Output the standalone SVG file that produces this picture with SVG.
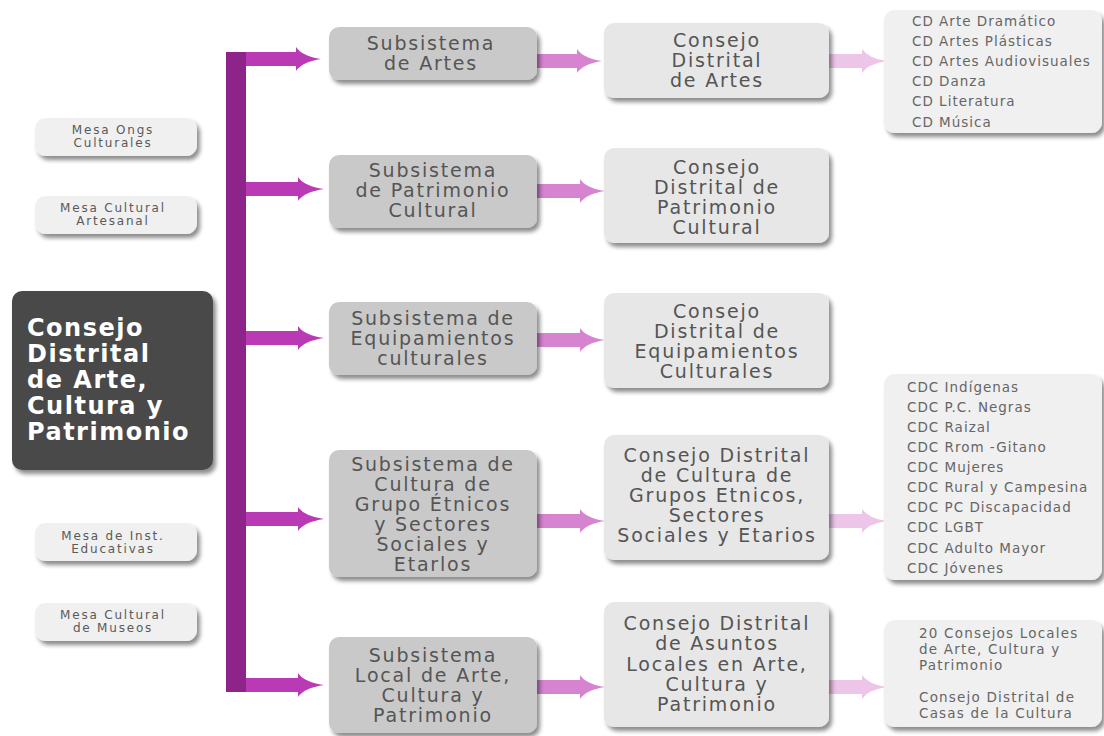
<svg xmlns="http://www.w3.org/2000/svg" width="1104" height="736" viewBox="0 0 1104 736">
  <style>
    .t { font-family: "DejaVu Sans", "Liberation Sans", sans-serif; text-anchor: middle; fill: #555555; }
    .sub { font-size: 19px; letter-spacing: 1.8px; }
    .list { font-family: "DejaVu Sans", "Liberation Sans", sans-serif; font-size: 13.5px; letter-spacing: 1px; fill: #666666; }
    .loc { font-size: 13.5px; letter-spacing: 1.2px; }
    .mesa { font-size: 12px; letter-spacing: 1.8px; fill: #5a5a5a; }
    .main { font-family: "DejaVu Sans", "Liberation Sans", sans-serif; font-size: 24px; font-weight: bold; letter-spacing: 1.5px; fill: #ffffff; }
    .boxSub { fill: #c9c9c9; }
    .boxCon { fill: #e7e7e7; }
    .boxList { fill: #f0f0f0; }
    .a1 { fill: #b93ab4; }
    .a2 { fill: #d683d0; }
    .a3 { fill: #ecc5e9; }
  </style>
  <defs>
    <filter id="shadow" x="-10%" y="-10%" width="125%" height="130%">
      <feDropShadow dx="3" dy="4" stdDeviation="2.2" flood-color="#000000" flood-opacity="0.45"/>
    </filter>
  </defs>
  <rect width="1104" height="736" fill="#ffffff"/>

  <!-- connectors -->
  <g id="connectors">
    <!-- trunk -->
    <rect x="226" y="52" width="20" height="640" fill="#8e2489"/>
    <!-- trunk to subsystems -->
    <path class="a1" d="M246,52 H296 V47 Q302,56 321,59 Q302,62 296,71 V66 H246 Z"/>
    <path class="a1" d="M246,182 H298 V177 Q304,186 324,189 Q304,192 298,201 V196 H246 Z"/>
    <path class="a1" d="M246,331 H298 V326 Q304,335 324,338 Q304,341 298,350 V345 H246 Z"/>
    <path class="a1" d="M246,512 H298 V507 Q304,516 324,519 Q304,522 298,531 V526 H246 Z"/>
    <path class="a1" d="M246,678 H298 V673 Q304,682 324,685 Q304,688 298,697 V692 H246 Z"/>
    <!-- subsystems to councils -->
    <path class="a2" d="M537,54 H577 V49 Q583,58 602,61 Q583,64 577,73 V68 H537 Z"/>
    <path class="a2" d="M537,184 H580 V179 Q586,188 605,191 Q586,194 580,203 V198 H537 Z"/>
    <path class="a2" d="M537,333 H580 V328 Q586,337 605,340 Q586,343 580,352 V347 H537 Z"/>
    <path class="a2" d="M537,514 H580 V509 Q586,518 605,521 Q586,524 580,533 V528 H537 Z"/>
    <path class="a2" d="M537,680 H580 V675 Q586,684 605,687 Q586,690 580,699 V694 H537 Z"/>
    <!-- councils to lists -->
    <path class="a3" d="M829,54 H862 V49 Q868,58 886,61 Q868,64 862,73 V68 H829 Z"/>
    <path class="a3" d="M829,514 H862 V509 Q868,518 886,521 Q868,524 862,533 V528 H829 Z"/>
    <path class="a3" d="M829,680 H862 V675 Q868,684 886,687 Q868,690 862,699 V694 H829 Z"/>
  </g>

  <!-- main council -->
  <g id="node-main">
    <rect x="12" y="291" width="201" height="179" rx="10" fill="#4a4a4a" filter="url(#shadow)"/>
    <text class="main" x="27" y="336">Consejo</text>
    <text class="main" x="27" y="362">Distrital</text>
    <text class="main" x="27" y="388">de Arte,</text>
    <text class="main" x="27" y="414">Cultura y</text>
    <text class="main" x="27" y="440">Patrimonio</text>
  </g>

  <!-- tables -->
  <g id="mesa-ongs">
    <rect x="35" y="118" width="162" height="38" rx="11" class="boxList" filter="url(#shadow)"/>
    <text class="t mesa" x="113" y="134">Mesa Ongs</text>
    <text class="t mesa" x="113" y="147">Culturales</text>
  </g>
  <g id="mesa-artesanal">
    <rect x="35" y="196" width="162" height="38" rx="11" class="boxList" filter="url(#shadow)"/>
    <text class="t mesa" x="113" y="212">Mesa Cultural</text>
    <text class="t mesa" x="113" y="225">Artesanal</text>
  </g>
  <g id="mesa-educativas">
    <rect x="35" y="523" width="162" height="38" rx="11" class="boxList" filter="url(#shadow)"/>
    <text class="t mesa" x="113" y="540">Mesa de Inst.</text>
    <text class="t mesa" x="113" y="553">Educativas</text>
  </g>
  <g id="mesa-museos">
    <rect x="35" y="603" width="162" height="38" rx="11" class="boxList" filter="url(#shadow)"/>
    <text class="t mesa" x="113" y="619">Mesa Cultural</text>
    <text class="t mesa" x="113" y="632">de Museos</text>
  </g>

  <!-- subsystems -->
  <g id="sub-artes">
    <rect x="329" y="27" width="208" height="53" rx="10" class="boxSub" filter="url(#shadow)"/>
    <text class="t sub" x="431" y="50">Subsistema</text>
    <text class="t sub" x="431" y="70">de Artes</text>
  </g>
  <g id="sub-patrimonio">
    <rect x="329" y="155" width="208" height="73" rx="10" class="boxSub" filter="url(#shadow)"/>
    <text class="t sub" x="433" y="177">Subsistema</text>
    <text class="t sub" x="433" y="197">de Patrimonio</text>
    <text class="t sub" x="433" y="217">Cultural</text>
  </g>
  <g id="sub-equipamientos">
    <rect x="329" y="302" width="208" height="73" rx="10" class="boxSub" filter="url(#shadow)"/>
    <text class="t sub" x="433" y="325">Subsistema de</text>
    <text class="t sub" x="433" y="345">Equipamientos</text>
    <text class="t sub" x="433" y="365">culturales</text>
  </g>
  <g id="sub-etnicos">
    <rect x="329" y="450" width="208" height="127" rx="10" class="boxSub" filter="url(#shadow)"/>
    <text class="t sub" x="433" y="471">Subsistema de</text>
    <text class="t sub" x="433" y="491">Cultura de</text>
    <text class="t sub" x="433" y="511">Grupo Étnicos</text>
    <text class="t sub" x="433" y="531">y Sectores</text>
    <text class="t sub" x="433" y="551">Sociales y</text>
    <text class="t sub" x="433" y="571">Etarlos</text>
  </g>
  <g id="sub-local">
    <rect x="329" y="637" width="208" height="96" rx="10" class="boxSub" filter="url(#shadow)"/>
    <text class="t sub" x="433" y="662">Subsistema</text>
    <text class="t sub" x="433" y="682">Local de Arte,</text>
    <text class="t sub" x="433" y="702">Cultura y</text>
    <text class="t sub" x="433" y="722">Patrimonio</text>
  </g>

  <!-- district councils -->
  <g id="con-artes">
    <rect x="604" y="23" width="225" height="75" rx="10" class="boxCon" filter="url(#shadow)"/>
    <text class="t sub" x="717" y="47">Consejo</text>
    <text class="t sub" x="717" y="67">Distrital</text>
    <text class="t sub" x="717" y="87">de Artes</text>
  </g>
  <g id="con-patrimonio">
    <rect x="604" y="148" width="225" height="95" rx="10" class="boxCon" filter="url(#shadow)"/>
    <text class="t sub" x="717" y="174">Consejo</text>
    <text class="t sub" x="717" y="194">Distrital de</text>
    <text class="t sub" x="717" y="214">Patrimonio</text>
    <text class="t sub" x="717" y="234">Cultural</text>
  </g>
  <g id="con-equipamientos">
    <rect x="604" y="293" width="225" height="95" rx="10" class="boxCon" filter="url(#shadow)"/>
    <text class="t sub" x="717" y="318">Consejo</text>
    <text class="t sub" x="717" y="338">Distrital de</text>
    <text class="t sub" x="717" y="358">Equipamientos</text>
    <text class="t sub" x="717" y="378">Culturales</text>
  </g>
  <g id="con-etnicos">
    <rect x="604" y="435" width="225" height="125" rx="10" class="boxCon" filter="url(#shadow)"/>
    <text class="t sub" x="717" y="462">Consejo Distrital</text>
    <text class="t sub" x="717" y="482">de Cultura de</text>
    <text class="t sub" x="717" y="502">Grupos Etnicos,</text>
    <text class="t sub" x="717" y="522">Sectores</text>
    <text class="t sub" x="717" y="542">Sociales y Etarios</text>
  </g>
  <g id="con-locales">
    <rect x="604" y="602" width="225" height="125" rx="10" class="boxCon" filter="url(#shadow)"/>
    <text class="t sub" x="717" y="630">Consejo Distrital</text>
    <text class="t sub" x="717" y="650">de Asuntos</text>
    <text class="t sub" x="717" y="671">Locales en Arte,</text>
    <text class="t sub" x="717" y="691">Cultura y</text>
    <text class="t sub" x="717" y="711">Patrimonio</text>
  </g>

  <!-- council lists -->
  <g id="list-artes">
    <rect x="884" y="10" width="218" height="123" rx="11" class="boxList" filter="url(#shadow)"/>
    <text class="list" x="912" y="26">CD Arte Dramático</text>
    <text class="list" x="912" y="46">CD Artes Plásticas</text>
    <text class="list" x="912" y="66">CD Artes Audiovisuales</text>
    <text class="list" x="912" y="86">CD Danza</text>
    <text class="list" x="912" y="106">CD Literatura</text>
    <text class="list" x="912" y="127">CD Música</text>
  </g>
  <g id="list-etnicos">
    <rect x="884" y="374" width="218" height="206" rx="11" class="boxList" filter="url(#shadow)"/>
    <text class="list" x="907" y="392">CDC Indígenas</text>
    <text class="list" x="907" y="412">CDC P.C. Negras</text>
    <text class="list" x="907" y="432">CDC Raizal</text>
    <text class="list" x="907" y="452">CDC Rrom -Gitano</text>
    <text class="list" x="907" y="472">CDC Mujeres</text>
    <text class="list" x="907" y="492">CDC Rural y Campesina</text>
    <text class="list" x="907" y="512">CDC PC Discapacidad</text>
    <text class="list" x="907" y="532">CDC LGBT</text>
    <text class="list" x="907" y="553">CDC Adulto Mayor</text>
    <text class="list" x="907" y="573">CDC Jóvenes</text>
  </g>
  <g id="list-locales">
    <rect x="884" y="620" width="218" height="107" rx="11" class="boxList" filter="url(#shadow)"/>
    <text class="list loc" x="919" y="638">20 Consejos Locales</text>
    <text class="list loc" x="919" y="654">de Arte, Cultura y</text>
    <text class="list loc" x="919" y="670">Patrimonio</text>
    <text class="list loc" x="919" y="702">Consejo Distrital de</text>
    <text class="list loc" x="919" y="718">Casas de la Cultura</text>
  </g>
</svg>
